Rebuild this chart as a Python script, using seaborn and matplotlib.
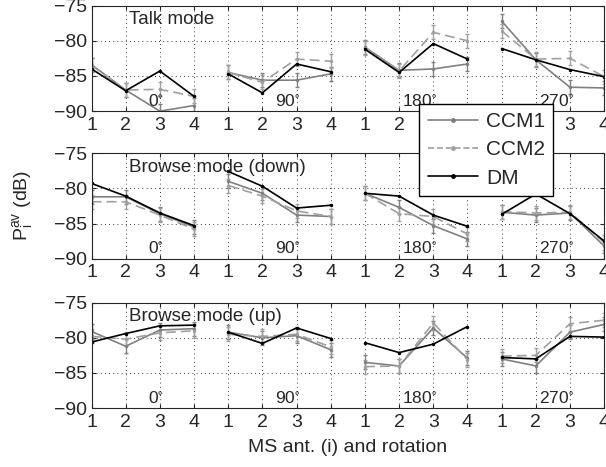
import numpy as np
import pandas as pd
import seaborn as sns
import matplotlib.pyplot as plt
from matplotlib.lines import Line2D

# antenna index 1..4 repeated for each rotation
antennas = [1, 2, 3, 4]
rotations = ['0', '90', '180', '270']
series_names = ['CCM1', 'CCM2', 'DM']
panel_titles = ['Talk mode', 'Browse mode (down)', 'Browse mode (up)']

# mean received power per antenna / rotation (dB)
talk_ccm1 = [-83.4, -87.0, -90.0, -89.2, -84.5, -85.6, -85.6, -84.7,
             -80.9, -84.2, -84.0, -83.3, -77.2, -82.7, -86.6, -86.7]
talk_ccm2 = [-83.5, -87.0, -86.9, -87.9, -84.5, -85.9, -82.6, -82.9,
             -81.0, -84.3, -78.8, -80.0, -78.6, -82.6, -82.5, -85.1]
talk_dm = [-84.0, -87.1, -84.3, -87.9, -84.7, -87.4, -83.3, -84.4,
           -81.2, -84.5, -80.4, -82.6, -81.1, -82.7, -84.1, -85.1]

down_ccm1 = [-81.2, -81.2, -83.6, -85.5, -79.0, -80.7, -83.8, -84.0,
             -80.7, -82.7, -85.3, -87.2, -83.4, -83.8, -83.5, -88.2]
down_ccm2 = [-81.9, -81.9, -83.8, -85.8, -79.6, -81.1, -83.2, -84.0,
             -80.7, -83.6, -84.0, -86.5, -83.3, -83.5, -83.4, -87.7]
down_dm = [-79.3, -81.1, -83.5, -85.3, -77.6, -79.7, -82.8, -82.4,
           -80.7, -81.1, -83.8, -85.4, -83.7, -80.8, -83.6, -87.5]

up_ccm1 = [-79.1, -81.2, -78.9, -78.7, -79.2, -80.0, -79.7, -81.7,
           -83.5, -84.0, -78.6, -82.9, -83.0, -84.0, -79.2, -78.1]
up_ccm2 = [-79.8, -80.2, -79.3, -79.0, -79.5, -79.8, -79.5, -81.3,
           -84.1, -84.0, -77.9, -83.1, -82.6, -82.5, -78.0, -77.5]
up_dm = [-80.6, -79.4, -78.3, -78.2, -79.2, -80.8, -78.6, -80.1,
         -80.7, -82.1, -80.9, -78.4, -82.8, -83.0, -79.8, -79.9]

err_half = 1.0  # half-width of the CCM error bars (dB)

panels = [
    (talk_ccm1, talk_ccm2, talk_dm),
    (down_ccm1, down_ccm2, down_dm),
    (up_ccm1, up_ccm2, up_dm),
]

sns.set_style('ticks')
plt.rcParams['font.family'] = ['Liberation Sans', 'DejaVu Sans']
plt.rcParams['mathtext.fontset'] = 'custom'
plt.rcParams['mathtext.rm'] = 'Liberation Sans'
plt.rcParams['mathtext.it'] = 'Liberation Sans'

colors = {'CCM1': '#808080', 'CCM2': '#a0a0a0', 'DM': 'black'}
dashes = {'CCM1': '', 'CCM2': (6, 3), 'DM': ''}

fig = plt.figure(figsize=(6.06, 4.67), dpi=100)
bottoms = [0.762, 0.446, 0.126]
height = 0.226
positions = np.arange(1, 17)

for p, (vals, bottom, title) in enumerate(zip(panels, bottoms, panel_titles)):
    ax = fig.add_axes([0.151, bottom, 0.846, height])

    # long-form table, one unit per rotation so the groups stay apart
    rows = []
    for name, v in zip(series_names, vals):
        for k, y in enumerate(v):
            rows.append({'pos': positions[k], 'power': y, 'series': name,
                         'rot': rotations[k // 4]})
    df = pd.DataFrame(rows)

    for name in ['CCM1', 'CCM2']:
        sub = df[df.series == name]
        ax.errorbar(sub.pos, sub.power, yerr=err_half, fmt='none',
                    ecolor=colors[name], elinewidth=1.0, capsize=1.5, zorder=1)

    sns.lineplot(data=df, x='pos', y='power', hue='series', style='series',
                 units='rot', estimator=None, hue_order=series_names,
                 palette=colors, dashes=dashes, markers={s: '.' for s in series_names},
                 markersize=5, markeredgewidth=0, linewidth=1.2,
                 legend=False, ax=ax, zorder=2)

    ax.set_xlim(1, 16)
    ax.set_ylim(-90, -75)
    ax.set_xticks(positions)
    ax.set_xticklabels([str(a) for a in antennas * 4])
    ax.set_yticks([-90, -85, -80, -75])
    ax.set_yticklabels(['\u221290', '\u221285', '\u221280', '\u221275'])
    ax.grid(True, color='black', linestyle=(0, (1, 4)), linewidth=0.6)
    ax.tick_params(direction='in', length=3, labelsize=14, top=True, right=True)
    ax.tick_params(axis='x', pad=4)
    ax.tick_params(axis='y', pad=3)
    for sp in ax.spines.values():
        sp.set_linewidth(0.8)
        sp.set_visible(True)
    ax.set_xlabel('')
    ax.set_ylabel('')

    ax.text(2.1, -77.0, title, fontsize=13.5, va='center', ha='left')
    for g, rot in enumerate(rotations):
        ax.text(3.1 + 4 * g, -88.5, r'$\mathregular{' + rot + r'^{\circ}}$',
                fontsize=12.5, ha='right', va='center')

    if p == 2:
        ax.set_xlabel('MS ant. (i) and rotation', fontsize=14, labelpad=6)

fig.text(0.037, 0.56, r'$\mathregular{P_i^{av}}$ (dB)', rotation=90,
         fontsize=14, va='center', ha='center')

handles = [Line2D([], [], color=colors[s], marker='.', markersize=5,
                  linestyle='--' if s == 'CCM2' else '-', linewidth=1.2)
           for s in series_names]
fig.legend(handles, series_names, loc='upper left', bbox_to_anchor=(0.692, 0.778),
           fontsize=15, frameon=True, fancybox=False, edgecolor='black',
           framealpha=1, borderpad=0.4, labelspacing=0.45, handlelength=2.4,
           handletextpad=0.4, borderaxespad=0)

fig.savefig('out.png', dpi=100)
